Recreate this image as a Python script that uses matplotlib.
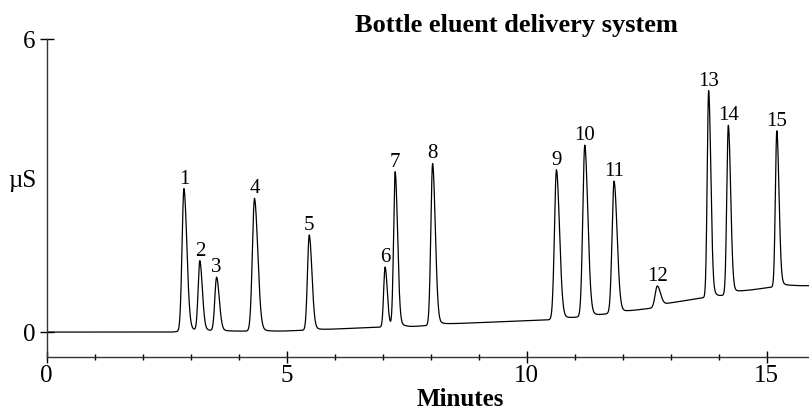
import numpy as np
import matplotlib
matplotlib.use("Agg")
import matplotlib.pyplot as plt
from matplotlib.ticker import MultipleLocator

# Peak table (minutes, µS above baseline, width)
peak_labels = ["1", "2", "3", "4", "5", "6", "7", "8", "9", "10", "11", "12", "13", "14", "15"]
peak_times = [2.86, 3.19, 3.54, 4.33, 5.47, 7.05, 7.26, 8.04, 10.62, 11.21, 11.82, 12.72, 13.79, 14.20, 15.21]
peak_heights = [2.92, 1.43, 1.10, 2.72, 1.95, 1.23, 3.17, 3.31, 3.06, 3.51, 2.70, 0.42, 4.24, 3.47, 3.20]
peak_sigmas = [0.040, 0.035, 0.037, 0.045, 0.037, 0.030, 0.033, 0.037, 0.042, 0.042, 0.042, 0.045, 0.030, 0.032, 0.030]

# Baseline drift read between the peaks
base_t = [0.0, 2.6, 3.0, 3.9, 4.9, 5.7, 6.9, 7.6, 8.4, 10.45, 10.9, 11.5, 12.1, 12.6, 12.95, 13.65, 14.0, 14.5, 15.1, 15.5, 15.9]
base_v = [0.0, 0.0, 0.03, 0.02, 0.02, 0.05, 0.10, 0.11, 0.17, 0.25, 0.29, 0.35, 0.43, 0.49, 0.59, 0.70, 0.72, 0.84, 0.92, 0.95, 0.95]


def tailing_peak(t, t0, h, s):
    dt = t - t0
    left = np.exp(-dt ** 2 / (2 * s ** 2))
    right = 0.92 * np.exp(-dt ** 2 / (2 * (1.5 * s) ** 2)) + 0.08 * np.exp(-np.clip(dt, 0, None) / 0.09)
    return h * np.where(dt < 0, left, right)


t = np.linspace(0, 15.9, 4000)
signal = np.interp(t, base_t, base_v)
for t0, h, s in zip(peak_times, peak_heights, peak_sigmas):
    signal = signal + tailing_peak(t, t0, h, s)

serif = ["Liberation Serif", "DejaVu Serif"]
plt.rcParams["font.family"] = serif

fig = plt.figure(figsize=(8.09, 4.12), dpi=100)
ax = fig.add_axes([0.0577, 0.134, 0.9423, 0.771])
ax.plot(t, signal, color="black", lw=0.9)

ax.set_xlim(0, 15.88)
ax.set_ylim(-0.506, 6)
ax.spines["top"].set_visible(False)
ax.spines["right"].set_visible(False)
for sp in ("left", "bottom"):
    ax.spines[sp].set_linewidth(1.0)
    ax.spines[sp].set_color("#333333")

ax.set_xticks([0, 5, 10, 15])
ax.xaxis.set_minor_locator(MultipleLocator(1))
ax.set_yticks([0, 6])
ax.tick_params(axis="x", which="major", direction="inout", length=8, width=1, pad=2, labelsize=18)
ax.tick_params(axis="x", which="minor", direction="inout", length=5, width=1)
ax.tick_params(axis="y", which="major", direction="inout", length=10, width=1, pad=3, labelsize=18)

for lab, t0, h in zip(peak_labels, peak_times, peak_heights):
    top = h + np.interp(t0, base_t, base_v)
    ax.annotate(lab, (t0, top), xytext=(0, 0), textcoords="offset points",
                ha="center", va="bottom", fontsize=15)

ax.text(0.616, 1.022, "Bottle eluent delivery system", transform=ax.transAxes,
        ha="center", va="baseline", fontsize=19, fontweight="bold")
ax.text(0.542, -0.155, "Minutes", transform=ax.transAxes,
        ha="center", va="baseline", fontsize=18, fontweight="bold")
ax.text(-0.0504, 0.534, "µS", transform=ax.transAxes,
        ha="left", va="baseline", fontsize=18)

fig.savefig("out.png", dpi=100)
